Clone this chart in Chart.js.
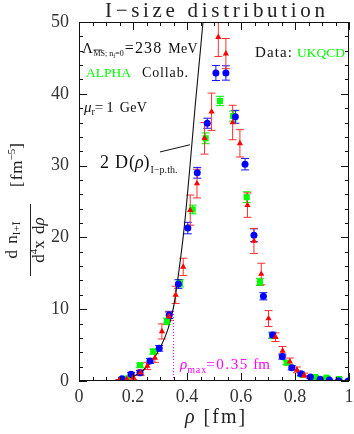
<!DOCTYPE html>
<html><head><meta charset="utf-8">
<script src="https://cdn.jsdelivr.net/npm/chart.js@4/dist/chart.umd.min.js"></script>
<style>html,body{margin:0;padding:0;background:#fff;}#wrap{width:354px;height:434px;position:relative;}</style>
</head><body><div id="wrap"><canvas id="c"></canvas></div>
<script>
// ---- data ----
const blueRho = [0.159,0.193,0.226,0.263,0.297,0.334,0.368,0.403,0.438,0.475,0.507,0.544,0.579,0.615,0.648,0.683,0.717,0.753,0.788,0.822,0.857,0.893,0.927,0.962,0.997];
const blueVal = [0.3,0.95,1.15,2.8,4.55,9.2,13.5,21.3,29.0,35.9,42.9,42.9,36.8,30.2,20.3,11.8,6.4,3.4,1.85,1.0,0.55,0.25,0.15,0.05,0.0];
const blueErr = [0.2,0.25,0.3,0.35,0.4,0.5,0.6,0.8,0.75,0.7,1.05,1.0,0.9,0.8,0.9,0.5,0.4,0.35,0.3,0.25,0.2,0.15,0.1,0.1,0.1];

const greenRho = [0.177,0.226,0.275,0.325,0.374,0.421,0.469,0.522,0.571,0.621,0.670,0.716,0.769,0.822,0.874,0.917,0.963];
const greenVal = [0.35,2.2,4.1,8.3,13.6,23.9,33.8,39.0,36.9,25.6,13.8,6.3,2.55,0.93,0.55,0.47,0.28];
const greenErr = [0.2,0.3,0.35,0.45,0.5,0.6,0.75,0.65,0.7,0.75,0.5,0.4,0.3,0.25,0.2,0.15,0.15];

const redRho = [0.149,0.177,0.201,0.228,0.253,0.281,0.307,0.333,0.358,0.386,0.412,0.437,0.465,0.491,0.516,0.544,0.569,0.596,0.624,0.648,0.675,0.702,0.728,0.754,0.781,0.807,0.834];
const redVal = [0.1,0.25,0.5,1.15,2.1,3.2,6.9,9.0,12.0,15.9,23.8,27.5,33.8,37.5,47.9,45.6,36.0,33.1,24.5,19.5,14.9,8.7,6.1,4.2,2.7,1.55,0.8];
const redErr = [0.1,0.2,0.3,0.4,0.5,0.6,1.05,0.6,1.2,1.2,2.1,2.0,2.2,2.6,2.7,2.1,2.4,1.9,1.7,1.75,1.5,1.1,0.6,0.6,0.5,0.4,0.3];

const curveRho = [0.12,0.15,0.18,0.21,0.24,0.27,0.30,0.33,0.35,0.37,0.39,0.41,0.43,0.45,0.46];
const curveVal = [0.0,0.12,0.35,0.8,1.6,2.8,4.6,7.3,10.3,15.3,21.5,29.5,38.2,46.2,50.3];

const rhoMax = 0.35;
const rhoMaxTop = 10.3;

const xTicks = [0,0.2,0.4,0.6,0.8,1];
const yTicks = [0,10,20,30,40,50];

// ---- helpers ----
const SERIF = '"Liberation Serif", "DejaVu Serif", serif';
function F(size, italic){ return (italic?'italic ':'') + size + 'px ' + SERIF; }
// parts: t text, f font, c colour, dy shift, fit (target width), ls letter spacing, gap, over
function drawRich(ctx, x, y, parts, align){
  let w = 0;
  for (const p of parts){
    ctx.font = p.f; ctx.letterSpacing = '0px';
    const w0 = ctx.measureText(p.t).width;
    if (p.fit){ const n = Math.max(p.t.length-1,1); p.ls = (p.fit - w0)/n; p.w = p.fit + (p.gap||0); }
    else { p.ls = p.ls||0; p.w = w0 + p.ls*Math.max(p.t.length-1,0) + (p.gap||0); }
    w += p.w;
  }
  let cx = align==='center' ? x - w/2 : (align==='right' ? x - w : x);
  for (const p of parts){
    ctx.font = p.f; ctx.letterSpacing = p.ls+'px'; ctx.fillStyle = p.c || '#111';
    ctx.textAlign = 'left'; ctx.textBaseline = 'alphabetic';
    ctx.fillText(p.t, cx, y + (p.dy||0));
    if (p.over){ ctx.strokeStyle = p.c||'#111'; ctx.lineWidth = 0.8; ctx.beginPath(); ctx.moveTo(cx, y+(p.dy||0)-p.over); ctx.lineTo(cx+p.oLen, y+(p.dy||0)-p.over); ctx.stroke(); }
    cx += p.w;
  }
  ctx.letterSpacing = '0px';
  return w;
}

function pts(xs, ys){ return xs.map((x,i)=>({x:x, y:ys[i]})); }

const errorPlugin = {
  id:'errs',
  beforeDatasetsDraw(chart){
    const ctx = chart.ctx, xs = chart.scales.x, ys = chart.scales.y, a = chart.chartArea;
    ctx.save();
    ctx.beginPath(); ctx.rect(a.left, a.top, a.right-a.left, a.bottom-a.top); ctx.clip();
    const sets = [[greenRho,greenVal,greenErr,'#00ee00'],[blueRho,blueVal,blueErr,'#1010ff'],[redRho,redVal,redErr,'#ff3030']];
    for (const [rx,rv,re,col] of sets){
      ctx.strokeStyle = col; ctx.lineWidth = 1;
      for (let i=0;i<rx.length;i++){
        const px = xs.getPixelForValue(rx[i]);
        const y1 = ys.getPixelForValue(rv[i]+re[i]), y2 = ys.getPixelForValue(rv[i]-re[i]);
        ctx.beginPath();
        ctx.moveTo(px, y1); ctx.lineTo(px, y2);
        ctx.moveTo(px-4, y1); ctx.lineTo(px+4, y1);
        ctx.moveTo(px-4, y2); ctx.lineTo(px+4, y2);
        ctx.stroke();
      }
    }
    ctx.restore();
  }
};

const framePlugin = {
  id:'frame',
  afterDraw(chart){
    const ctx = chart.ctx, xs = chart.scales.x, ys = chart.scales.y, a = chart.chartArea;
    ctx.save();
    ctx.strokeStyle = '#111'; ctx.lineWidth = 1;
    ctx.strokeRect(Math.round(a.left)+0.5, Math.round(a.top)+0.5, Math.round(a.right-a.left)-1, Math.round(a.bottom-a.top)-1);
    ctx.beginPath();
    for (let i=0;i<=20;i++){
      const v = i*0.05; const px = Math.round(xs.getPixelForValue(v))+0.5;
      const L = (i%4===0)?8:4;
      ctx.moveTo(px, a.bottom); ctx.lineTo(px, a.bottom-L);
      ctx.moveTo(px, a.top); ctx.lineTo(px, a.top+L);
    }
    for (let i=0;i<=25;i++){
      const v = i*2; const py = Math.round(ys.getPixelForValue(v))+0.5;
      const L = (i%5===0)?8:4;
      ctx.moveTo(a.left, py); ctx.lineTo(a.left+L, py);
      ctx.moveTo(a.right, py); ctx.lineTo(a.right-L, py);
    }
    ctx.stroke();

    // title
    drawRich(ctx, 105, 17, [{t:'I\u2212size distribution', f:F(21), fit:220, c:'#222'}]);

    // x axis title
    drawRich(ctx, 185, 423, [{t:'\u03c1', f:F(20,true), c:'#222', gap:9},{t:'[fm]', f:F(20), c:'#222', ls:2}]);

    // y axis title (rotated)
    ctx.save();
    ctx.translate(30, 240); ctx.rotate(-Math.PI/2);
    drawRich(ctx, 0, -13, [{t:'d n', f:F(17), c:'#222', ls:1},{t:'I+\u012a', f:F(11), c:'#222', dy:3}], 'center');
    ctx.strokeStyle='#222'; ctx.lineWidth=1; ctx.beginPath(); ctx.moveTo(-36,0.5); ctx.lineTo(36,0.5); ctx.stroke();
    drawRich(ctx, 0, 14, [{t:'d', f:F(17), c:'#222'},{t:'4', f:F(11), c:'#222', dy:-7},{t:'x d', f:F(17), c:'#222', ls:1},{t:'\u03c1', f:F(17,true), c:'#222'}], 'center');
    ctx.restore();
    ctx.save();
    ctx.translate(22, 165); ctx.rotate(-Math.PI/2);
    drawRich(ctx, 0, 0, [{t:'[fm', f:F(17), c:'#222', ls:1},{t:'\u22125', f:F(11), c:'#222', dy:-7},{t:']', f:F(17), c:'#222'}], 'center');
    ctx.restore();

    // annotations inside
    drawRich(ctx, 82, 53, [{t:'\u039b', f:F(15), c:'#111', gap:0.5},{t:'MS; n', f:F(8), c:'#111', dy:3, over:6, oLen:9},{t:'f', f:F(6), c:'#111', dy:5},{t:'=0', f:F(8), c:'#111', dy:3, gap:1},{t:'=238', f:F(16), c:'#111', ls:1.2, gap:7},{t:'MeV', f:F(14), c:'#111', ls:0.3}]);
    drawRich(ctx, 86, 77, [{t:'ALPHA', f:F(13.5), c:'#00ff00', gap:11},{t:'Collab.', f:F(14), c:'#111', fit:46}]);
    drawRich(ctx, 84, 112, [{t:'\u03bc', f:F(15,true), c:'#111'},{t:'r', f:F(10), c:'#111', dy:3},{t:'=1', f:F(15), c:'#111', fit:19, gap:6},{t:'GeV', f:F(14), c:'#111', ls:0.3}]);
    drawRich(ctx, 100, 168, [{t:'2 D(', f:F(18), c:'#111', ls:0.8},{t:'\u03c1', f:F(18,true), c:'#111'},{t:')', f:F(18), c:'#111', gap:1},{t:'I\u2212p.th.', f:F(10), c:'#111', dy:5, fit:27}]);
    drawRich(ctx, 255, 57, [{t:'Data:', f:F(15), c:'#111', fit:37, gap:5},{t:'UKQCD', f:F(13.5), c:'#00ff00'}]);
    drawRich(ctx, 180, 369, [{t:'\u03c1', f:F(15,true), c:'#ff00ff'},{t:'max', f:F(10), c:'#ff00ff', dy:4, fit:19},{t:'=0.35', f:F(15), c:'#ff00ff', fit:41, gap:6},{t:'fm', f:F(15), c:'#ff00ff'}]);

    // leader line
    ctx.strokeStyle='#111'; ctx.lineWidth=1; ctx.beginPath();
    ctx.moveTo(xs.getPixelForValue(0.300), ys.getPixelForValue(31.9));
    ctx.lineTo(xs.getPixelForValue(0.411), ys.getPixelForValue(32.9));
    ctx.stroke();
    ctx.restore();
  }
};

new Chart(document.getElementById('c'), {
  type:'scatter',
  data:{ datasets:[
    {label:'red', data:pts(redRho,redVal), pointStyle:'triangle', pointRadius:3.6, backgroundColor:'#ff0000', borderColor:'#ff0000', borderWidth:0, showLine:false},
    {label:'blue', data:pts(blueRho,blueVal), pointStyle:'circle', pointRadius:3.5, backgroundColor:'#0000ff', borderColor:'#0000ff', borderWidth:0, showLine:false},
    {label:'green', data:pts(greenRho,greenVal), pointStyle:'rect', pointRadius:4.3, backgroundColor:'#00ff00', borderColor:'#00ff00', borderWidth:0, showLine:false},
    {label:'curve', data:pts(curveRho,curveVal), showLine:true, pointRadius:0, borderColor:'#111', borderWidth:1.1, cubicInterpolationMode:'monotone', fill:false},
    {label:'rhomax', data:[{x:rhoMax,y:0},{x:rhoMax,y:rhoMaxTop}], showLine:true, pointRadius:0, borderColor:'#ff00ff', borderWidth:1, borderDash:[1,2], fill:false}
  ]},
  options:{
    responsive:true, maintainAspectRatio:false, animation:false,
    layout:{padding:{top:22,right:5,left:0,bottom:0}},
    plugins:{legend:{display:false}, tooltip:{enabled:false}, title:{display:false}},
    scales:{
      x:{type:'linear', min:0, max:1,
        afterBuildTicks(s){ s.ticks = xTicks.map(v=>({value:v})); },
        ticks:{font:{family:SERIF, size:18}, color:'#333', padding:5, maxRotation:0, callback:(v)=>String(v)},
        grid:{display:false, drawTicks:false}, border:{display:false},
        afterFit(s){ s.height = 53; s.paddingRight = 0; s.paddingLeft = 0; }},
      y:{type:'linear', min:0, max:50,
        afterBuildTicks(s){ s.ticks = yTicks.map(v=>({value:v})); },
        ticks:{font:{family:SERIF, size:18}, color:'#333', padding:10},
        grid:{display:false, drawTicks:false}, border:{display:false},
        afterFit(s){ s.width = 79; s.paddingTop = 0; s.paddingBottom = 0; }}
    }
  },
  plugins:[errorPlugin, framePlugin]
});
</script></body></html>
